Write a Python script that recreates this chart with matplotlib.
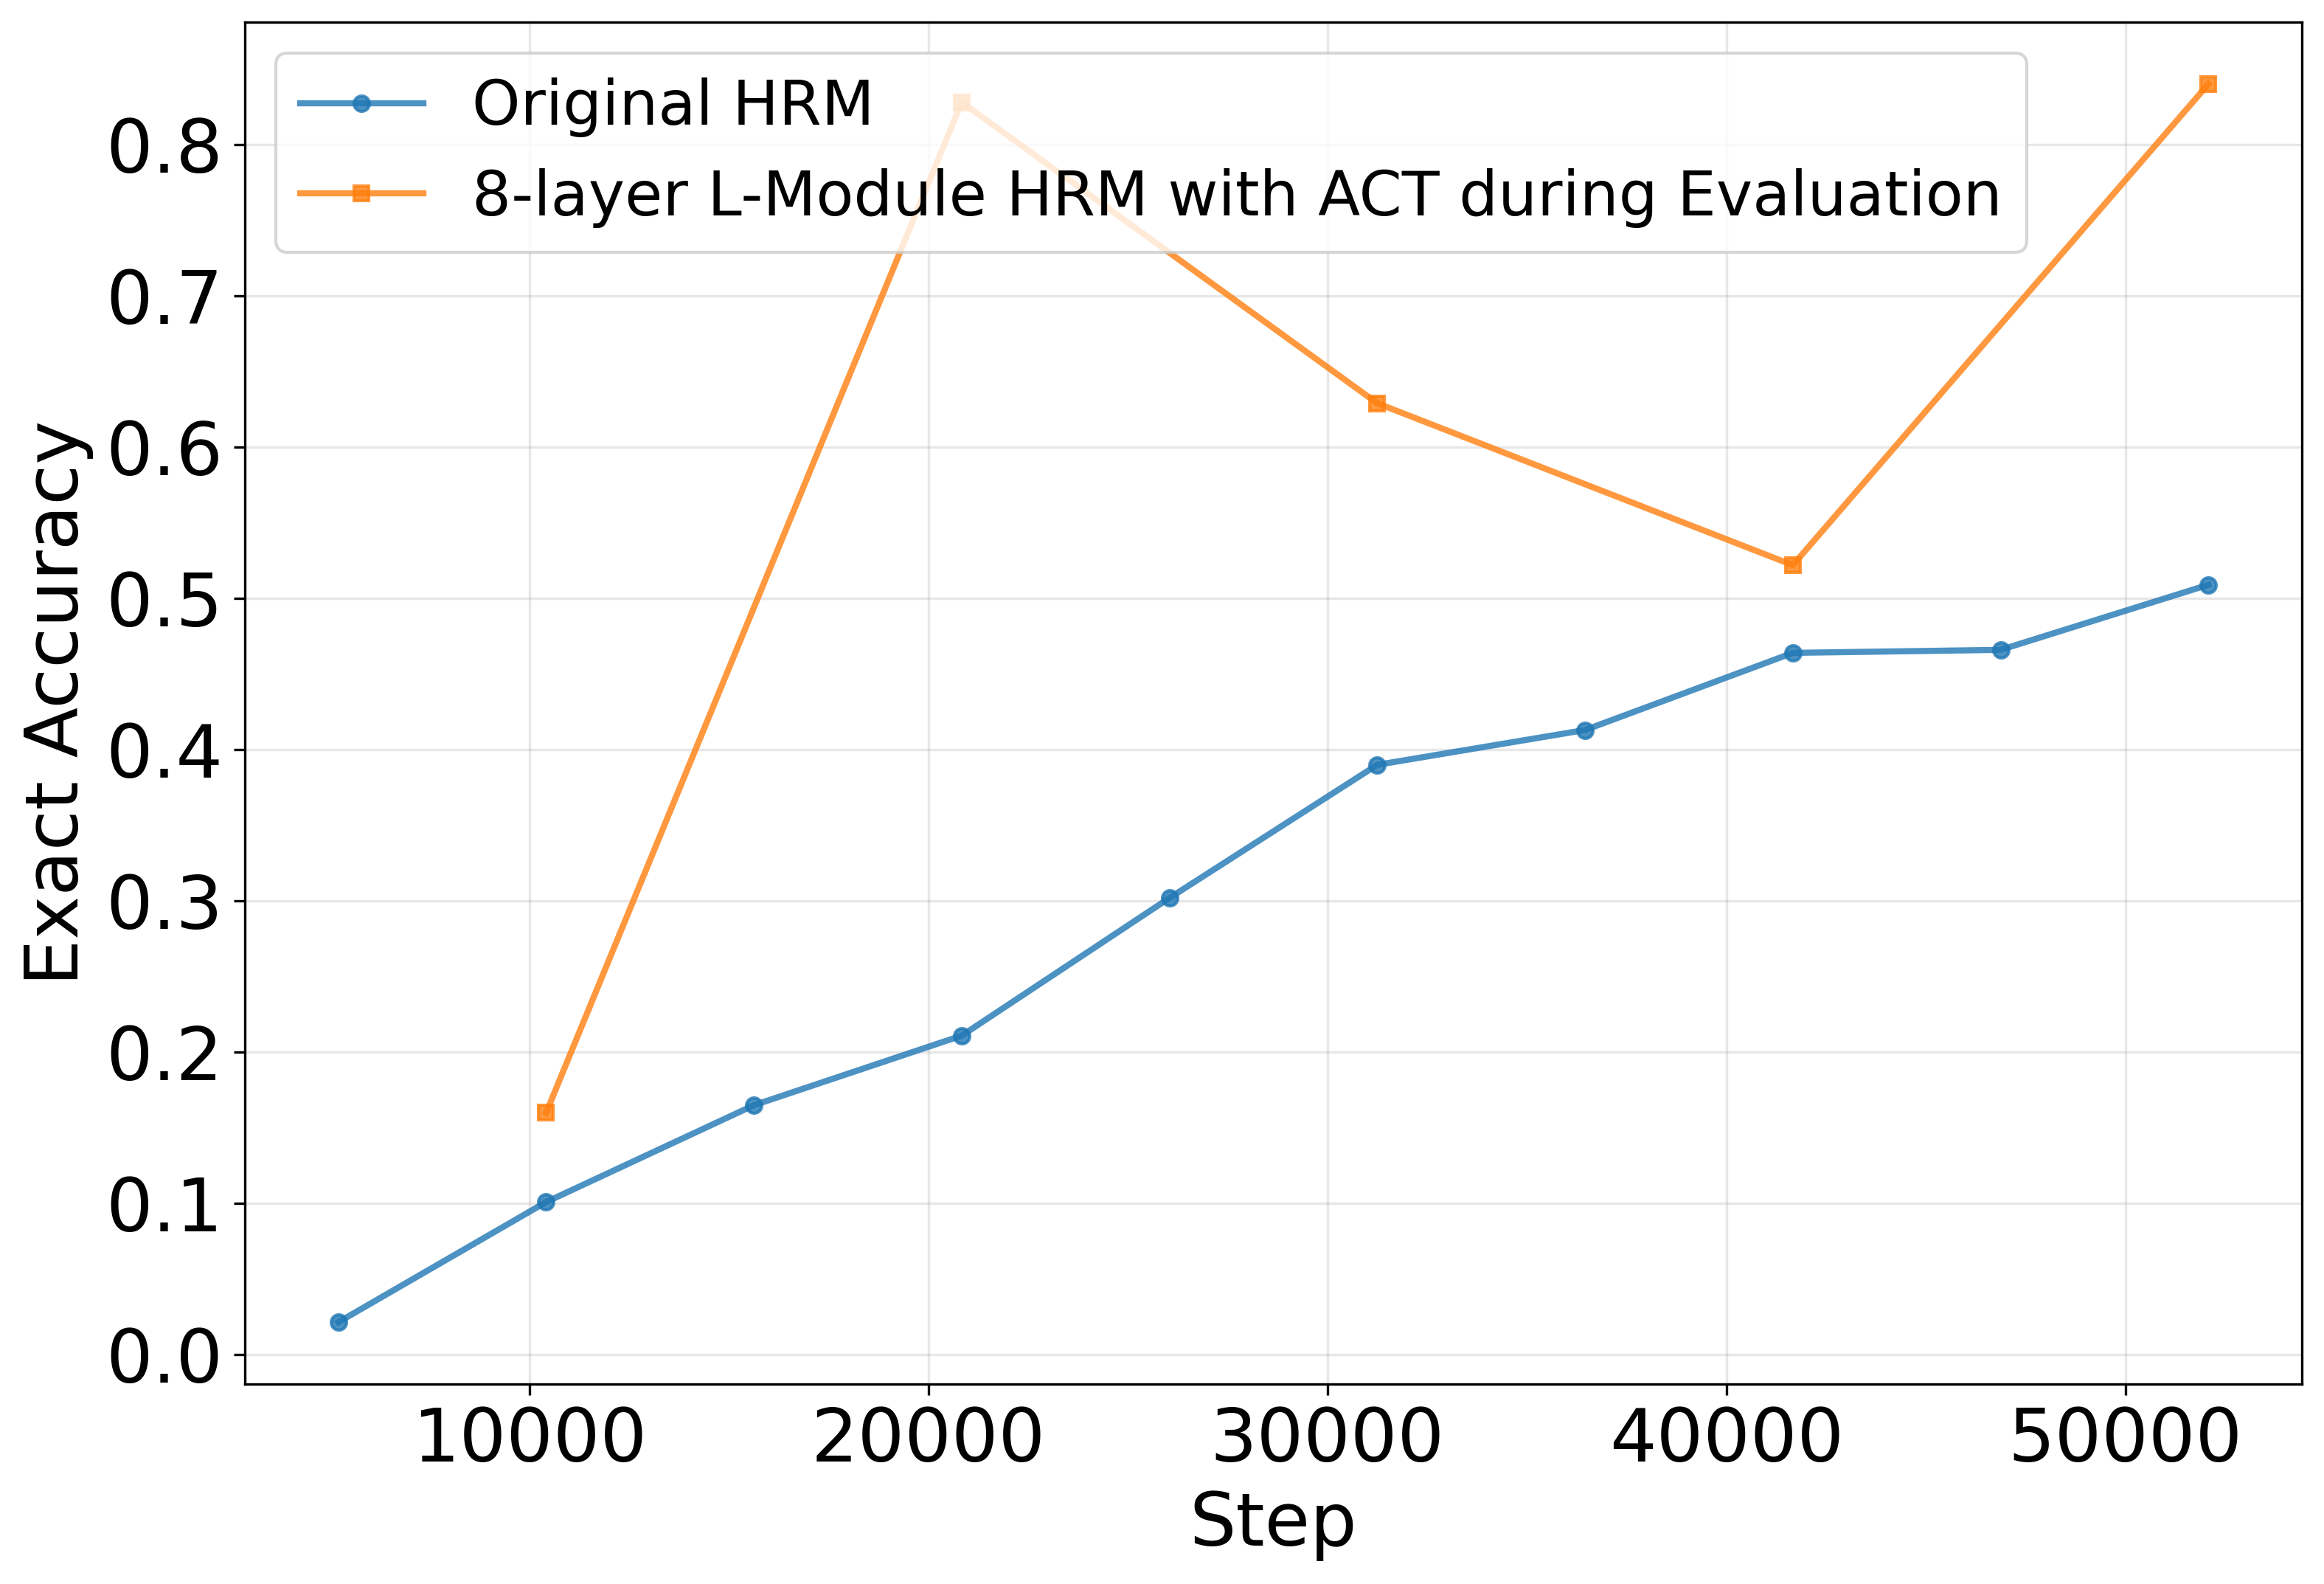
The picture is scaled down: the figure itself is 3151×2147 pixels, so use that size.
import matplotlib
matplotlib.use("Agg")
import matplotlib.pyplot as plt
from matplotlib.ticker import MultipleLocator

steps_orig = [5208, 10416, 15624, 20832, 26040, 31248, 36456, 41664, 46872, 52080]
acc_orig = [0.0216, 0.101, 0.165, 0.211, 0.302, 0.390, 0.413, 0.464, 0.466, 0.509]

steps_act = [10416, 20832, 31248, 41664, 52080]
acc_act = [0.160, 0.828, 0.629, 0.522, 0.840]

label_orig = "Original HRM"
label_act = "8-layer L-Module HRM with ACT during Evaluation"

fig = plt.figure(figsize=(3151/300, 2147/300), dpi=300)
ax = fig.add_axes([332/3151, 1-1876/2147, (3121-332)/3151, (1876-30)/2147])

ax.plot(steps_orig, acc_orig, marker='o', markersize=5, linewidth=2, alpha=0.8,
        color='#1f77b4', label=label_orig)
ax.plot(steps_act, acc_act, marker='s', markersize=5, linewidth=2, alpha=0.8,
        color='#ff7f0e', label=label_act)

ax.yaxis.set_major_locator(MultipleLocator(0.1))
ax.set_xlabel("Step", fontsize=24)
ax.set_ylabel("Exact Accuracy", fontsize=24)
ax.tick_params(axis='both', labelsize=24)
ax.grid(True, alpha=0.3)
ax.legend(loc='upper left', fontsize=20)

fig.savefig("out.png", dpi=300)
